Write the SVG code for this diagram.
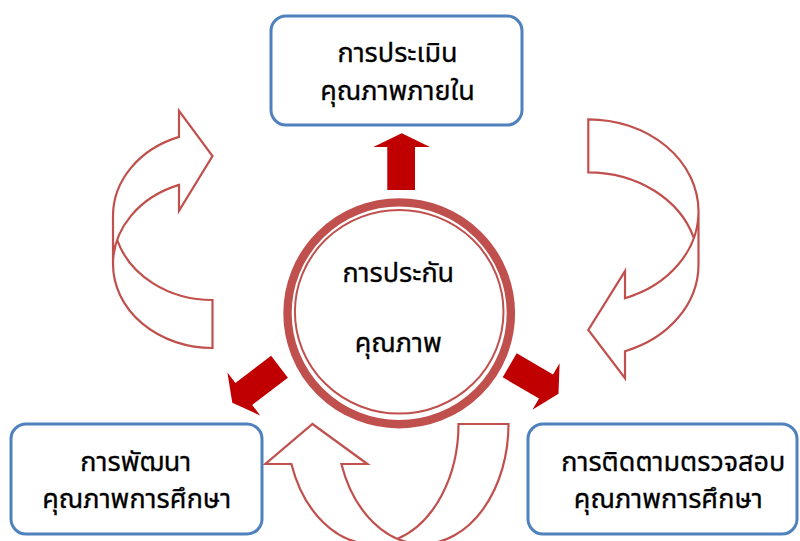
<svg xmlns="http://www.w3.org/2000/svg" width="800" height="541" viewBox="0 0 800 541">
<style>
.box{fill:#fff;stroke:#4F81BD;stroke-width:3}
.t{font-family:"Noto Sans Thai","Noto Sans","DejaVu Sans",sans-serif;font-size:27px;fill:#000;stroke:#000;stroke-width:0.3;text-anchor:middle}
.curve{fill:none;stroke:#C0504D;stroke-width:2.2;stroke-linejoin:miter}
.solid{fill:#C00000;stroke:none}
</style>
<rect width="800" height="541" fill="#fff"/>
<g id="connectors">
  <path class="curve" d="M113,264 A99.5,84 0 0 1 179,184.9 L179,210.9 L212.5,156 L179,110.8 L179,136.9 A99.5,84 0 0 0 113,216 L113,264 A99.5,84 0 0 0 212.5,348 L212.5,300 A99.5,84 0 0 1 117.2,240"/>
  <path class="curve" d="M698.5,211.4 A110.2,92.1 0 0 1 625,298.2 L625,271.2 L588.3,330 L625,378.2 L625,351.2 A110.2,92.1 0 0 0 698.5,264.4 L698.5,211.4 A110.2,92.1 0 0 0 588.3,119.3 L588.3,172.3 A110.2,92.1 0 0 1 693.8,237.9"/>
  <path class="curve" d="M422.5,544 A86,120 0 0 1 341.4,464 L367.4,464 L312.5,424 L265.4,464 L291.4,464 A86,120 0 0 0 372.5,544 L422.5,544 A86,120 0 0 0 508.5,424 L458.5,424 A86,120 0 0 1 397.5,538.8"/>
  <polygon class="solid" points="401.7,133.3 430,147 415,147 415,190 387.3,190 387.3,147 373.3,147"/>
  <polygon class="solid" points="271.1,355.7 287.9,377.7 252.2,405 260.2,415.5 232.3,402.8 227.4,372.5 235.4,383"/>
  <polygon class="solid" points="516.7,353.3 502.7,377.3 539,398.5 532.4,409.8 558.5,393.8 559.6,363.2 553,374.5"/>
</g>
<g id="node-center">
  <ellipse cx="399.2" cy="313.3" rx="111.7" ry="110.9" fill="none" stroke="#C0504D" stroke-width="8.4"/>
  <ellipse cx="399.2" cy="311.8" rx="104.3" ry="101.8" fill="#fff" stroke="#C0504D" stroke-width="2"/>
  <text class="t" x="398.3" y="281.7">การประกัน</text>
  <text class="t" x="398.3" y="351.7">คุณภาพ</text>
</g>
<g id="node-top">
  <rect class="box" x="271" y="16" width="251" height="109" rx="15"/>
  <text class="t" x="397.5" y="61.5">การประเมิน</text>
  <text class="t" x="397.5" y="99.5">คุณภาพภายใน</text>
</g>
<g id="node-left">
  <rect class="box" x="11" y="424" width="251" height="110" rx="15"/>
  <text class="t" x="135.8" y="470.5">การพัฒนา</text>
  <text class="t" x="136.7" y="508.3">คุณภาพการศึกษา</text>
</g>
<g id="node-right">
  <rect class="box" x="528" y="424" width="269" height="110" rx="15"/>
  <text class="t" x="673.3" y="470.5">การติดตามตรวจสอบ</text>
  <text class="t" x="668.3" y="508.3">คุณภาพการศึกษา</text>
</g>
</svg>
